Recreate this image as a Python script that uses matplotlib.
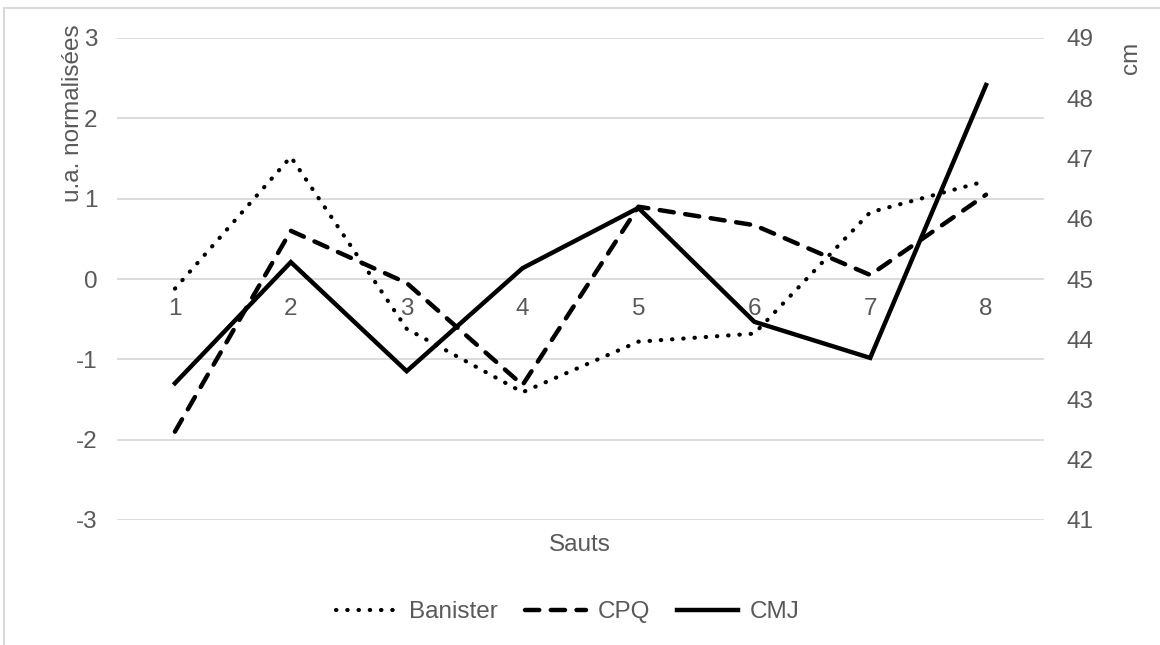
import matplotlib.pyplot as plt
from matplotlib.lines import Line2D

plt.rcParams['font.family'] = ['Liberation Sans', 'DejaVu Sans']
plt.rcParams['axes.unicode_minus'] = False

sauts = ['1', '2', '3', '4', '5', '6', '7', '8']
banister = [-0.12, 1.52, -0.62, -1.41, -0.78, -0.68, 0.83, 1.22]
cpq = [-1.90, 0.60, -0.05, -1.32, 0.90, 0.67, 0.05, 1.05]
cmj = [43.27, 45.28, 43.47, 45.18, 46.18, 44.29, 43.69, 48.22]

grey = '#595959'
fs = 17.5
W, H = 1160, 645
fig = plt.figure(figsize=(11.6, 6.45), dpi=100)
ax = fig.add_axes([117 / W, 1 - 520 / H, (1044 - 117) / W, (520 - 38) / H])
ax2 = ax.twinx()

x = list(range(len(sauts)))
ax.plot(x, banister, color='black', lw=3, linestyle=(0, (0.1, 2.6)),
        dash_capstyle='round', label='Banister')
ax.plot(x, cpq, color='black', lw=3.2, linestyle=(0, (3.2, 2.6)),
        dash_capstyle='round', label='CPQ')
ax2.plot(x, cmj, color='black', lw=3.2, solid_joinstyle='miter', label='CMJ')

ax.set_xlim(-0.5, len(sauts) - 0.5)
ax.set_ylim(-3, 3)
ax2.set_ylim(41, 49)
ax.set_yticks(range(-3, 4))
ax2.set_yticks(range(41, 50))
ax.yaxis.grid(True, color='#d9d9d9', lw=1.3)
ax.set_axisbelow(True)
ax.set_xticks([])
for a in (ax, ax2):
    for s in a.spines.values():
        s.set_visible(False)
    a.tick_params(axis='y', length=0, labelsize=fs, labelcolor=grey)
ax.tick_params(axis='y', pad=14)
ax2.tick_params(axis='y', pad=16)

for i, lab in enumerate(sauts):
    ax.annotate(lab, (i, 0), xytext=(0, -19), textcoords='offset pixels',
                ha='center', va='top', fontsize=fs, color=grey)

fig.text(580 / W, 1 - 545 / H, 'Sauts', ha='center', va='center',
         fontsize=fs, color=grey)
fig.text(73 / W, 1 - 113 / H, 'u.a. normalisées', ha='center', va='center',
         rotation=90, fontsize=fs, color=grey)
fig.text(1131 / W, 1 - 58 / H, 'cm', ha='center', va='center',
         rotation=90, fontsize=fs, color=grey)

handles = [ax.get_lines()[0], ax.get_lines()[1], ax2.get_lines()[0]]
fig.legend(handles, ['Banister', 'CPQ', 'CMJ'], loc='center',
           bbox_to_anchor=(568 / W, 1 - 612 / H), ncol=3, frameon=False,
           fontsize=fs, labelcolor=grey, handlelength=2.5,
           handletextpad=0.5, columnspacing=1.1)

fig.add_artist(Line2D([4 / W, 1], [1 - 8 / H, 1 - 8 / H], color='#d9d9d9', lw=1.5))
fig.add_artist(Line2D([4 / W, 4 / W], [0, 1 - 8 / H], color='#d9d9d9', lw=1.5))

fig.savefig('out.png', dpi=100)
